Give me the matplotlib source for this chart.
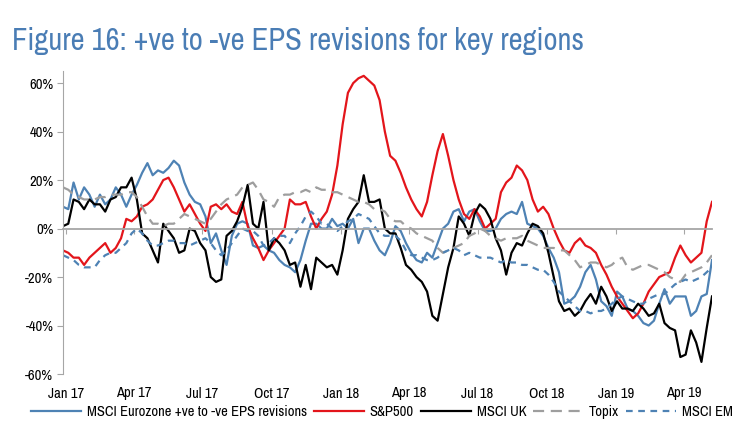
import matplotlib
matplotlib.use("Agg")
import numpy as np
import pandas as pd
import matplotlib.pyplot as plt
import matplotlib.dates as mdates
from matplotlib import font_manager

# ---------------- data (weekly, % of +ve vs -ve EPS revisions) ----------------
start_date = "2016-12-28"
n_weeks = 124

eurozone = [9, 8, 19, 12, 17, 14, 9, 14, 10, 12, 17, 14, 9, 14, 18, 23, 27, 22, 24, 23, 25, 28, 26, 19, 14, 11,
            10, 5, -6, -2, -9, -15, -3, 2, 3, 2, -7, -8, -7, -9, -10, -13, -15, -16, -18, -13, -5, 2, 2, 0, 0,
            4, 1, 2, 0, 4, -6, 0, 0, -5, -9, -11, -6, 1, -1, -6, -10, -13, -14, -10, -12, -6, 0, 2, 7, 8,
            3, 7, 8, 3, -1, -1, 0, 4, 6, 7, 6, 11, 2, 1, 0, -3, -8, -12, -18, -31, -30, -28, -24, -18, -15,
            -21, -30, -32, -36, -26, -28, -33, -34, -36, -39, -40, -38, -31, -25, -31, -28, -28, -28, -36, -34, -28, -27, -13]

sp500 = [-9, -10, -12, -12, -15, -12, -10, -8, -6, -10, -8, -4, 4, 3, 5, 9, 10, 12, 16, 20, 21, 17, 12, 7, 10, 6,
         2, -1, 9, 10, 8, 10, 7, 6, 11, 1, -4, -8, -13, -9, -6, -3, 0, 12, 10, 10, 11, 5, 0, 4, 7,
         14, 26, 43, 56, 60, 62, 63, 61, 59, 53, 40, 30, 28, 23, 17, 12, 8, 5, 11, 22, 32, 39, 30, 20, 12,
         6, 4, 8, 5, 0, 2, 4, 15, 19, 21, 26, 24, 20, 12, 7, 9, 6, 0, -5, -9, -10, -6, -4, -7, -8,
         -10, -15, -19, -24, -28, -31, -34, -37, -35, -31, -26, -23, -20, -19, -18, -12, -7, -11, -14, -12, -10, 3, 11]

msci_uk = [1, 2, 12, 11, 8, 12, 10, 10, 7, 12, 13, 17, 17, 21, 12, -2, -4, -9, -14, 2, -1, -4, -10, -9, 0, -1,
           -6, -9, -20, -22, -21, -3, -1, 3, 9, 18, 2, 0, 11, -9, -4, -6, -9, -15, -14, -24, -15, -25, -12, -14, -16,
           -15, -19, -9, 4, 8, 11, 22, 11, 11, 12, 0, -2, -2, -8, -15, -17, -20, -22, -26, -36, -38, -27, -16, -8, 5,
           2, -3, 6, 10, 8, 4, -4, -9, -19, -10, -6, -7, -2, 2, 1, -2, -10, -20, -30, -34, -33, -36, -34, -30, -27,
           -31, -24, -28, -34, -30, -33, -33, -34, -31, -33, -36, -35, -31, -39, -41, -42, -53, -52, -42, -47, -55, -41, -28]

topix = [17, 16, 14, 13, 12, 12, 12, 13, 13, 14, 14, 14, 15, 15, 13, 9, 5, 2, 2, 1, 2, 2, 4, 6, 5, 4,
         3, 2, 4, 7, 10, 12, 13, 14, 17, 18, 19, 16, 12, 11, 9, 13, 14, 14, 15, 15, 16, 15, 17, 16, 16,
         15, 15, 14, 13, 12, 11, 11, 10, 8, 8, 7, 4, 3, 3, 1, 0, -2, -3, -4, -5, -8, -10, -9, -8, -7,
         -6, -3, -2, 0, -1, -3, -4, -5, -4, -4, -4, -3, -5, -6, -7, -8, -8, -8, -9, -9, -11, -13, -16, -15, -14,
         -14, -15, -16, -15, -13, -12, -16, -17, -16, -15, -15, -16, -17, -18, -20, -21, -22, -19, -18, -17, -16, -14, -11]

msci_em = [-11, -12, -13, -15, -16, -16, -16, -13, -11, -10, -10, -8, -6, -2, 0, -2, -5, -7, -7, -6, -5, -5, -6, -6, -7, -6,
           -5, -4, -6, -9, -11, -9, -6, -3, 0, -1, -1, -3, -7, -6, -4, -3, -3, -6, -2, 1, 5, 7, 5, 2, 2,
           0, -1, 1, 3, 4, 6, 5, 4, 1, -2, -3, -3, -3, -5, -9, -11, -11, -12, -13, -13, -12, -10, -9, -8, -9,
           -11, -10, -11, -12, -12, -12, -13, -14, -13, -14, -14, -15, -15, -16, -17, -17, -19, -22, -26, -28, -30, -32, -34, -34, -35,
           -34, -34, -33, -31, -29, -28, -29, -30, -31, -31, -29, -28, -27, -27, -25, -23, -22, -21, -22, -21, -20, -18, -16]

labels = ["MSCI Eurozone +ve to -ve EPS revisions", "S&P500", "MSCI UK", "Topix", "MSCI EM"]
title = "Figure 16: +ve to -ve EPS revisions for key regions"

# ---------------- fonts ----------------
available = set(f.name for f in font_manager.fontManager.ttflist)
narrow_choices = ["Liberation Sans Narrow", "Arial Narrow", "Archivo Narrow", "PT Sans Narrow",
                  "Roboto Condensed", "Open Sans Condensed", "Liberation Sans"]
font = next((f for f in narrow_choices if f in available), "DejaVu Sans")
plt.rcParams["font.family"] = [font, "DejaVu Sans"]

dates = pd.date_range(start_date, periods=n_weeks, freq="7D")

blue = "#4E82B4"
red = "#E3151B"
grey = "#9E9E9E"
axis_grey = "#A6A6A6"

fig = plt.figure(figsize=(7.56, 4.41), dpi=100)
ax = fig.add_axes([63 / 756, (441 - 374) / 441, (712 - 63) / 756, (374 - 71) / 441])

lw = 1.6
l1, = ax.plot(dates, eurozone, color=blue, lw=lw, label=labels[0])
l2, = ax.plot(dates, sp500, color=red, lw=lw, label=labels[1])
l3, = ax.plot(dates, msci_uk, color="black", lw=lw, label=labels[2])
l4, = ax.plot(dates, topix, color=grey, lw=lw, dashes=(5, 3), label=labels[3])
l5, = ax.plot(dates, msci_em, color=blue, lw=lw, dashes=(3, 2.5), label=labels[4])

ax.set_xlim(dates[0], dates[-1])
ax.set_ylim(-60, 65)
ax.set_yticks(np.arange(-60, 61, 20))
ax.yaxis.set_major_formatter(matplotlib.ticker.FuncFormatter(lambda v, p: f"{v:.0f}%"))

for s in ["top", "right"]:
    ax.spines[s].set_visible(False)
ax.spines["left"].set_color(axis_grey)
ax.spines["bottom"].set_position(("data", 0))
ax.spines["bottom"].set_color(axis_grey)
ax.spines["bottom"].set_linewidth(1.3)
ax.tick_params(axis="y", length=4, color=axis_grey, labelsize=10.5, pad=3)
ax.tick_params(axis="x", length=3.5, color=axis_grey, direction="out", labelbottom=False)

locator = mdates.MonthLocator(bymonth=[1, 4, 7, 10])
ax.xaxis.set_major_locator(locator)

sec = ax.secondary_xaxis(0.0)
sec.xaxis.set_major_locator(mdates.MonthLocator(bymonth=[1, 4, 7, 10]))
sec.xaxis.set_major_formatter(mdates.DateFormatter("%b %y"))
sec.spines["bottom"].set_visible(False)
sec.tick_params(axis="x", length=0, labelsize=10.5, pad=9)

fig.text(12 / 756, 1 - 41 / 441, title, color="#4A7DB5", fontsize=22, fontweight="bold",
         va="center", ha="left")

fig.legend(handles=[l1, l2, l3, l4, l5], loc="center", bbox_to_anchor=(382 / 756, 1 - 412 / 441),
           ncol=5, frameon=False, fontsize=10.5, handlelength=3.4, handletextpad=0.4,
           columnspacing=0.5, borderaxespad=0)

fig.savefig("out.png", dpi=100)
